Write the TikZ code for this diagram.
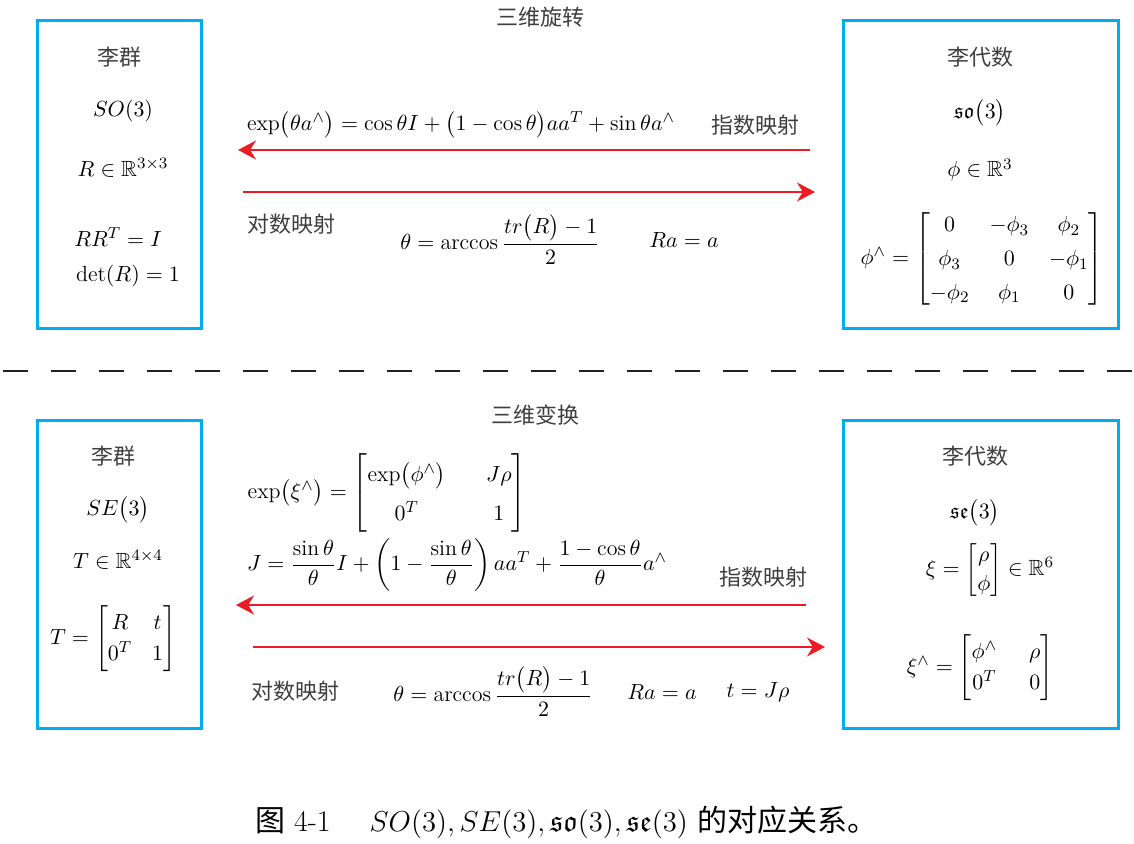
\documentclass[tikz,border=0pt]{standalone}
\usepackage{amsmath,amssymb}
\usepackage{fontspec}
\newfontfamily\cjk{Noto Sans CJK SC}
\usepackage{tikz}
\usetikzlibrary{arrows.meta,positioning}
\definecolor{boxblue}{HTML}{00AEEF}
\definecolor{arrred}{HTML}{ED1C24}
\definecolor{label}{HTML}{3F3F3F}
\definecolor{ink}{HTML}{231F20}
\tikzset{box/.style={draw=boxblue,line width=1.5pt,inner sep=0pt,minimum height=154pt},grp/.style={box,minimum width=82pt},alg/.style={box,minimum width=137.5pt},cjkl/.style={font=\cjk\fontsize{11}{13}\selectfont,text=label},eq/.style={font=\fontsize{11}{13}\selectfont,inner sep=0pt},arr/.style={-{Stealth[length=9pt,width=9.5pt]},line width=1pt,draw=arrred},cut/.style={draw=ink,line width=1pt,dash pattern=on 12.5pt off 11.5pt}}

\begin{document}
\begin{tikzpicture}[x=0.5pt,y=-0.5pt]
\useasboundingbox (0,0) rectangle (1134,844);
\node[cjkl] (rot) at (540,17) {三维旋转};
\node[grp] (so) at (119,175) {};
\node[alg] (lso) at (980.5,175) {};
\node[cjkl] (g1) at (119,57) {李群};
\node[eq] (g2) at (123,111) {$SO(3)$};
\node[eq] (g3) at (123,168) {$R\in\mathbb{R}^{3\times3}$};
\node[eq] (g4) at (118,237) {$RR^{T}=I$};
\node[eq] (g5) at (128,276) {$\det(R)=1$};
\node[cjkl] (a1) at (980,57) {李代数};
\node[eq] (a2) at (980,113) {$\mathfrak{so}\bigl(3\bigr)$};
\node[eq] (a3) at (980,170) {$\phi\in\mathbb{R}^{3}$};
\node[eq] (a4) at (982,259) {\arraycolsep=5pt\def\arraystretch{1.3}$\phi^{\wedge}=\begin{bmatrix}0&-\phi_3&\phi_2\\ \phi_3&0&-\phi_1\\ -\phi_2&\phi_1&0\end{bmatrix}$};
\coordinate (e1) at (810,150);
\coordinate (e2) at (238,150);
\coordinate (l1) at (243,192);
\coordinate (l2) at (815,192);
\draw[arr] (e1) -- (e2);
\draw[arr] (l1) -- (l2);
\node[eq] (expso) at (461,125) {$\exp\bigl(\theta a^{\wedge}\bigr)=\cos\theta I+\bigl(1-\cos\theta\bigr)aa^{T}+\sin\theta a^{\wedge}$};
\node[cjkl] (exptxt) at (755,125) {指数映射};
\node[cjkl] (logtxt) at (291,224) {对数映射};
\node[eq] (logso) at (500,240) {$\theta=\arccos\dfrac{tr\bigl(R\bigr)-1}{2}$};
\node[eq] (axis) at (684,240) {$Ra=a$};
\coordinate (c1) at (3,371.5);
\coordinate (c2) at (1134,371.5);
\draw[cut] (c1) -- (c2);
\node[cjkl] (tra) at (535,415) {三维变换};
\node[grp] (se) at (119,574) {};
\node[alg] (lse) at (980.5,574) {};
\node[cjkl] (h1) at (113,456) {李群};
\node[eq] (h2) at (118,510) {$SE\bigl(3\bigr)$};
\node[eq] (h3) at (118,560) {$T\in\mathbb{R}^{4\times4}$};
\node[eq] (h4) at (113,639) {\def\arraystretch{1.2}$T=\begin{bmatrix}R&t\\0^{T}&1\end{bmatrix}$};
\node[cjkl] (b1) at (975,456) {李代数};
\node[eq] (b2) at (975,513) {$\mathfrak{se}\bigl(3\bigr)$};
\node[eq] (b3) at (990,570) {\def\arraystretch{1.1}$\xi=\begin{bmatrix}\rho\\ \phi\end{bmatrix}\in\mathbb{R}^{6}$};
\node[eq] (b4) at (980,668) {\arraycolsep=8pt\def\arraystretch{1.2}$\xi^{\wedge}=\begin{bmatrix}\phi^{\wedge}&\rho\\0^{T}&0\end{bmatrix}$};
\node[eq] (expse) at (387,493) {\arraycolsep=10pt\def\arraystretch{1.5}$\exp\bigl(\xi^{\wedge}\bigr)=\begin{bmatrix}\exp\bigl(\phi^{\wedge}\bigr)&J\rho\\0^{T}&1\end{bmatrix}$};
\node[eq] (jac) at (457,565) {$J=\dfrac{\sin\theta}{\theta}I+\left(1-\dfrac{\sin\theta}{\theta}\right)aa^{T}+\dfrac{1-\cos\theta}{\theta}a^{\wedge}$};
\node[cjkl] (exptxt2) at (763,577) {指数映射};
\coordinate (f1) at (806,605);
\coordinate (f2) at (236,605);
\coordinate (m1) at (253,647);
\coordinate (m2) at (825,647);
\draw[arr] (f1) -- (f2);
\draw[arr] (m1) -- (m2);
\node[cjkl] (logtxt2) at (295,691) {对数映射};
\node[eq] (logse) at (493,692) {$\theta=\arccos\dfrac{tr\bigl(R\bigr)-1}{2}$};
\node[eq] (axis2) at (662,692) {$Ra=a$};
\node[eq] (trans) at (758,692) {$t=J\rho$};
\node[font=\fontsize{15}{17}\selectfont] (cap) at (566,822) {{\cjk 图} 4-1\quad\ $SO(3),SE(3),\mathfrak{so}(3),\mathfrak{se}(3)$ {\cjk 的对应关系。}};
\end{tikzpicture}
\end{document}
